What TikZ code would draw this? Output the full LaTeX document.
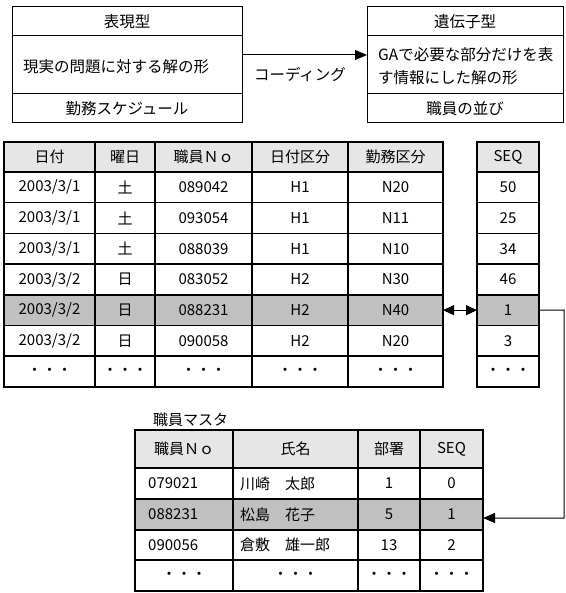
\documentclass[tikz,border=0pt]{standalone}
\usepackage{fontspec}
\setmainfont{Noto Sans CJK JP}
\usetikzlibrary{arrows.meta}
\definecolor{hdrgray}{RGB}{230,230,230}
\definecolor{hilgray}{RGB}{192,192,192}
\newcommand\tabfont{\fontsize{15}{18}\selectfont}
\newcommand\topfont{\fontsize{15.5}{23}\selectfont}
\tikzset{
  tcell/.style={draw, line width=1.5pt, inner sep=0pt, outer sep=0pt, font=\tabfont},
  hdr/.style={fill=hdrgray},
  hil/.style={fill=hilgray},
  dat/.style={},
  tbox/.style={draw, line width=1pt, inner sep=0pt, outer sep=0pt, font=\topfont},
  ttext/.style={inner sep=0pt, font=\topfont, align=left},
  ltext/.style={inner sep=0pt, font=\tabfont, anchor=west},
  conn/.style={line width=1pt},
  tip/.style={-{Triangle[length=12pt,width=10pt]}},
  dtip/.style={{Triangle[length=11pt,width=10pt]}-{Triangle[length=11pt,width=10pt]}}
}
% name, x1, y1, x2, y2, style, text
\newcommand\mkcell[7]{\node[tcell,#6,anchor=north west,minimum width={(#4-#2)*1pt},minimum height={(#5-#3)*1pt}] (#1) at (#2,#3) {#7};}
\newcommand\mkbox[7]{\node[tbox,#6,anchor=north west,minimum width={(#4-#2)*1pt},minimum height={(#5-#3)*1pt}] (#1) at (#2,#3) {#7};}
% idx, y1, y2, style, five texts
\newcommand\mrow[9]{%
  \mkcell{m-#1-1}{4}{#2}{95}{#3}{#4}{#5}
  \mkcell{m-#1-2}{95}{#2}{155}{#3}{#4}{#6}
  \mkcell{m-#1-3}{155}{#2}{252}{#3}{#4}{#7}
  \mkcell{m-#1-4}{252}{#2}{348}{#3}{#4}{#8}
  \mkcell{m-#1-5}{348}{#2}{443}{#3}{#4}{#9}}
\begin{document}
\begin{tikzpicture}[x=1pt,y=-1pt]
\useasboundingbox (0,0) rectangle (565,593);
% top boxes
\mkbox{lh}{12}{7}{242}{36}{}{表現型}
\mkbox{lm}{12}{36}{242}{94}{}{}
\mkbox{lb}{12}{94}{242}{123}{}{勤務スケジュール}
\node[ttext, anchor=west] (lmt) at (23,67) {現実の問題に対する解の形};
\mkbox{rh}{367}{7}{563}{36}{}{遺伝子型}
\mkbox{rm}{367}{36}{563}{94}{}{}
\mkbox{rb}{367}{94}{563}{123}{}{職員の並び}
\node[ttext, anchor=west] (rmt) at (378,66) {GAで必要な部分だけを表\\す情報にした解の形};
\draw[conn, tip] ([yshift=10pt]lm.east) -- ([yshift=10pt]rm.west);
\node[ttext] (code) at (300,75) {コーディング};
% main table
\mrow{0}{142}{172}{hdr}{日付}{曜日}{職員Ｎｏ}{日付区分}{勤務区分}
\mrow{1}{172}{202.7}{dat}{2003/3/1}{土}{089042}{H1}{N20}
\mrow{2}{202.7}{233.4}{dat}{2003/3/1}{土}{093054}{H1}{N11}
\mrow{3}{233.4}{264.1}{dat}{2003/3/1}{土}{088039}{H1}{N10}
\mrow{4}{264.1}{294.8}{dat}{2003/3/2}{日}{083052}{H2}{N30}
\mrow{5}{294.8}{325.5}{hil}{2003/3/2}{日}{088231}{H2}{N40}
\mrow{6}{325.5}{356.2}{dat}{2003/3/2}{日}{090058}{H2}{N20}
\mrow{7}{356.2}{386.9}{dat}{・・・}{・・・}{・・・}{・・・}{・・・}
% SEQ column
\mkcell{s-0}{477}{142}{539}{172}{hdr}{SEQ}
\mkcell{s-1}{477}{172}{539}{202.7}{dat}{50}
\mkcell{s-2}{477}{202.7}{539}{233.4}{dat}{25}
\mkcell{s-3}{477}{233.4}{539}{264.1}{dat}{34}
\mkcell{s-4}{477}{264.1}{539}{294.8}{dat}{46}
\mkcell{s-5}{477}{294.8}{539}{325.5}{hil}{1}
\mkcell{s-6}{477}{325.5}{539}{356.2}{dat}{3}
\mkcell{s-7}{477}{356.2}{539}{386.9}{dat}{・・・}
\draw[conn, dtip] (m-5-5.east) -- (s-5.west);
% staff master
\node[inner sep=0pt, font=\tabfont, anchor=west] (mlabel) at (153,420) {職員マスタ};
\mkcell{b-0-1}{135}{430}{233}{468}{hdr}{職員Ｎｏ}
\mkcell{b-0-2}{233}{430}{358}{468}{hdr}{氏名}
\mkcell{b-0-3}{358}{430}{420}{468}{hdr}{部署}
\mkcell{b-0-4}{420}{430}{483}{468}{hdr}{SEQ}
\mkcell{b-1-1}{135}{468}{233}{499}{dat}{}
\mkcell{b-1-2}{233}{468}{358}{499}{dat}{}
\mkcell{b-1-3}{358}{468}{420}{499}{dat}{1}
\mkcell{b-1-4}{420}{468}{483}{499}{dat}{0}
\mkcell{b-2-1}{135}{499}{233}{530}{hil}{}
\mkcell{b-2-2}{233}{499}{358}{530}{hil}{}
\mkcell{b-2-3}{358}{499}{420}{530}{hil}{5}
\mkcell{b-2-4}{420}{499}{483}{530}{hil}{1}
\mkcell{b-3-1}{135}{530}{233}{560}{dat}{}
\mkcell{b-3-2}{233}{530}{358}{560}{dat}{}
\mkcell{b-3-3}{358}{530}{420}{560}{dat}{13}
\mkcell{b-3-4}{420}{530}{483}{560}{dat}{2}
\mkcell{b-4-1}{135}{560}{233}{591}{dat}{・・・}
\mkcell{b-4-2}{233}{560}{358}{591}{dat}{・・・}
\mkcell{b-4-3}{358}{560}{420}{591}{dat}{・・・}
\mkcell{b-4-4}{420}{560}{483}{591}{dat}{・・・}
\node[ltext] (b-1-1t) at ([xshift=13pt]b-1-1.west) {079021};
\node[ltext] (b-2-1t) at ([xshift=13pt]b-2-1.west) {088231};
\node[ltext] (b-3-1t) at ([xshift=13pt]b-3-1.west) {090056};
\node[ltext] (b-1-2t) at ([xshift=7pt]b-1-2.west) {川崎　太郎};
\node[ltext] (b-2-2t) at ([xshift=7pt]b-2-2.west) {松島　花子};
\node[ltext] (b-3-2t) at ([xshift=7pt]b-3-2.west) {倉敷　雄一郎};
% connector SEQ -> staff master
\coordinate (corner1) at (564,310);
\coordinate (corner2) at (564,518);
\draw[conn, tip] (s-5.east) -- (corner1) -- (corner2) -- ([yshift=-3.5pt]b-2-4.east);
\end{tikzpicture}
\end{document}
